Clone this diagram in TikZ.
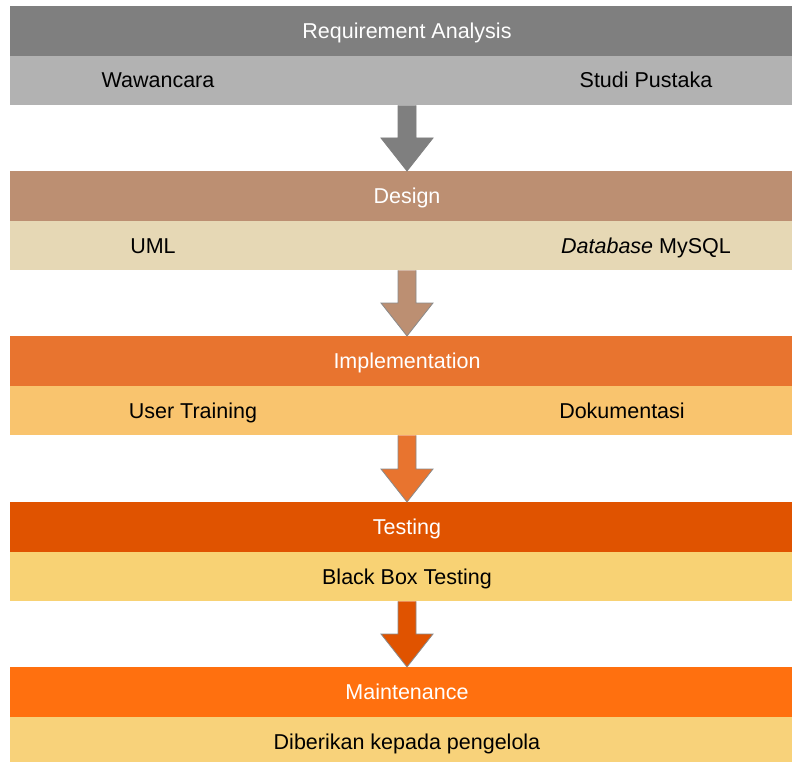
\documentclass[tikz,border=0pt]{standalone}
\usepackage{fontspec}
\setmainfont{Liberation Sans}
\usetikzlibrary{calc}
\definecolor{hA}{HTML}{7F7F7F}\definecolor{sA}{HTML}{B2B2B2}
\definecolor{hB}{HTML}{BC8F72}\definecolor{sB}{HTML}{E6D8B5}
\definecolor{hC}{HTML}{E8742F}\definecolor{sC}{HTML}{F9C46E}
\definecolor{hD}{HTML}{E05300}\definecolor{sD}{HTML}{F8D274}
\definecolor{hE}{HTML}{FF700F}\definecolor{sE}{HTML}{F8D27A}
\definecolor{arrline}{HTML}{8A8A8A}
\begin{document}
\begin{tikzpicture}[x=1pt,y=-1pt,
  every node/.style={font=\fontsize{21.5}{25}\selectfont},
  hdr/.style={anchor=north west,minimum width=782pt,minimum height=49.5pt,inner sep=0pt},
  sub/.style={anchor=north west,minimum width=782pt,minimum height=49.5pt,inner sep=0pt},
  lbl/.style={inner sep=0pt,text=black,anchor=base},
  hlbl/.style={inner sep=0pt,text=white,anchor=base},
  arrowbody/.style={line width=0.8pt,draw=arrline,line join=miter}]
\useasboundingbox[fill=white] (0,0) rectangle (792,762);
% rows
\node[hdr,fill=hA] (h1) at (10,6) {};
\node[sub,fill=sA] (s1) at (10,55.5) {};
\node[hdr,fill=hB] (h2) at (10,171) {};
\node[sub,fill=sB] (s2) at (10,220.5) {};
\node[hdr,fill=hC] (h3) at (10,336) {};
\node[sub,fill=sC] (s3) at (10,385.5) {};
\node[hdr,fill=hD] (h4) at (10,502) {};
\node[sub,fill=sD] (s4) at (10,551.5) {};
\node[hdr,fill=hE] (h5) at (10,667) {};
\node[sub,fill=sE,minimum height=45pt] (s5) at (10,716.5) {};
% header texts
\node[hlbl] (t1) at (407,38.5) {Requirement Analysis};
\node[hlbl] (t2) at (407,203.5) {Design};
\node[hlbl] (t3) at (407,368.5) {Implementation};
\node[hlbl] (t4) at (407,534.5) {Testing};
\node[hlbl] (t5) at (407,699.5) {Maintenance};
% labels
\node[lbl] (l1a) at (158,88) {Wawancara};
\node[lbl] (l1b) at (646,88) {Studi Pustaka};
\node[lbl] (l2a) at (153,253) {UML};
\node[lbl] (l2b) at (646,253) {\textit{Database} MySQL};
\node[lbl] (l3a) at (193,418) {User Training};
\node[lbl] (l3b) at (622,418) {Dokumentasi};
\node[lbl] (l4) at (407,584) {Black Box Testing};
\node[lbl] (l5) at (407,749) {Diberikan kepada pengelola};
% arrows
\coordinate (ax) at (407,0);
\foreach \s/\h/\c/\o in {s1/h2/hA/hA, s2/h3/hB/arrline, s3/h4/hC/arrline, s4/h5/hD/arrline}{
  \path (\s.south -| ax) coordinate (top) (\h.north -| ax) coordinate (tip);
  \filldraw[arrowbody,fill=\c,draw=\o]
    ($(top)+(-9,0)$) -- ($(tip)+(-9,-33)$) -- ($(tip)+(-26,-33)$) -- (tip)
    -- ($(tip)+(26,-33)$) -- ($(tip)+(9,-33)$) -- ($(top)+(9,0)$);
}
\end{tikzpicture}
\end{document}
